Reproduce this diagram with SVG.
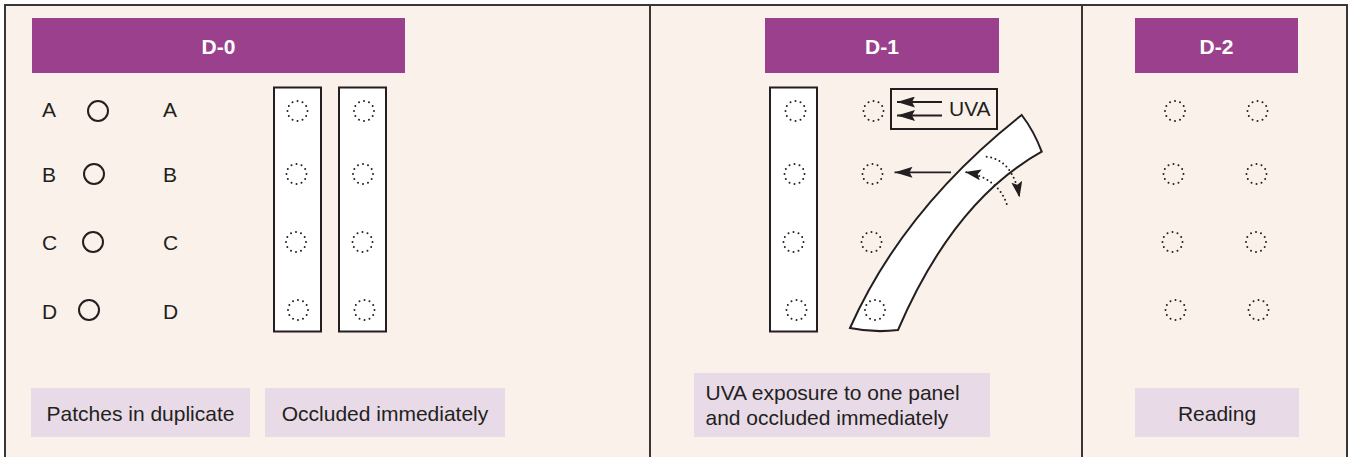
<svg xmlns="http://www.w3.org/2000/svg" width="1349" height="457" viewBox="0 0 1349 457">
<style>
  .frame{fill:#FBF1EB;stroke:#3A3536;stroke-width:2}
  .div{stroke:#3A3536;stroke-width:2}
  .hdr{fill:#9B408C}
  .hdrt{fill:#FFFFFF;font-family:"Liberation Sans",Arial,sans-serif;font-weight:bold;font-size:21px;text-anchor:middle}
  .lbl{fill:#E8DBE7}
  .t{fill:#231F20;font-family:"Liberation Sans",Arial,sans-serif;font-size:21px}
  .c{text-anchor:middle}
  .ring{fill:none;stroke:#231F20;stroke-width:2}
  .dot{fill:none;stroke:#231F20;stroke-width:2;stroke-linecap:round;stroke-dasharray:0 1}
  .strip{fill:#FFFFFF;stroke:#231F20;stroke-width:2}
  .arr{fill:none;stroke:#231F20;stroke-width:1.8}
  .darr{fill:none;stroke:#231F20;stroke-width:2;stroke-linecap:round;stroke-dasharray:0 4.5}
</style>
<defs>
  <marker id="ah" markerUnits="userSpaceOnUse" markerWidth="18" markerHeight="11" viewBox="0 0 18 11" refX="18" refY="5.5" orient="auto">
    <path d="M0,0 L18,5.5 L0,11 L3,5.5 Z" fill="#231F20"/>
  </marker>
  <marker id="ah2" markerUnits="userSpaceOnUse" markerWidth="16" markerHeight="11" viewBox="0 0 16 11" refX="16" refY="5.5" orient="auto">
    <path d="M0,0 L16,5.5 L0,11 L3,5.5 Z" fill="#231F20"/>
  </marker>
</defs>
<rect x="0" y="0" width="1349" height="457" fill="#FFFFFF"/>
<rect class="frame" x="5" y="5" width="1342" height="470"/>
<line class="div" x1="650" y1="5" x2="650" y2="457"/>
<line class="div" x1="1082" y1="5" x2="1082" y2="457"/>

<g id="d0-header"><rect class="hdr" x="32" y="18" width="373" height="55"/><text class="hdrt" x="218.5" y="54">D-0</text></g>
<g id="d1-header"><rect class="hdr" x="765" y="18" width="234" height="55"/><text class="hdrt" x="882" y="54">D-1</text></g>
<g id="d2-header"><rect class="hdr" x="1135" y="18" width="163" height="55"/><text class="hdrt" x="1216.5" y="54">D-2</text></g>

<g id="d0-patches">
  <text class="t" x="42" y="117">A</text><circle class="ring" cx="98" cy="111" r="10"/><text class="t" x="163" y="117">A</text>
  <text class="t" x="42" y="181.5">B</text><circle class="ring" cx="94" cy="174" r="10"/><text class="t" x="163" y="181.5">B</text>
  <text class="t" x="42" y="250">C</text><circle class="ring" cx="93" cy="242" r="10"/><text class="t" x="163" y="250">C</text>
  <text class="t" x="42" y="318.5">D</text><circle class="ring" cx="89" cy="310" r="10"/><text class="t" x="163" y="318.5">D</text>
</g>

<g id="d0-strip1">
  <rect class="strip" x="274" y="87.5" width="47" height="244"/>
  <circle class="dot" pathLength="12" cx="297.5" cy="111" r="10"/>
  <circle class="dot" pathLength="12" cx="296.5" cy="174" r="10"/>
  <circle class="dot" pathLength="12" cx="296" cy="242" r="10"/>
  <circle class="dot" pathLength="12" cx="298" cy="310" r="10"/>
</g>
<g id="d0-strip2">
  <rect class="strip" x="339" y="87.5" width="47" height="244"/>
  <circle class="dot" pathLength="12" cx="364" cy="111" r="10"/>
  <circle class="dot" pathLength="12" cx="363" cy="174" r="10"/>
  <circle class="dot" pathLength="12" cx="362.5" cy="242" r="10"/>
  <circle class="dot" pathLength="12" cx="364.5" cy="310" r="10"/>
</g>

<g id="label-patches"><rect class="lbl" x="31" y="388" width="219" height="49"/><text class="t c" x="140.5" y="421">Patches in duplicate</text></g>
<g id="label-occluded"><rect class="lbl" x="265" y="388" width="240" height="49"/><text class="t c" x="385" y="421">Occluded immediately</text></g>

<g id="d1-strip">
  <rect class="strip" x="770" y="87.5" width="47" height="244"/>
  <circle class="dot" pathLength="12" cx="795.5" cy="111" r="10"/>
  <circle class="dot" pathLength="12" cx="794.5" cy="174" r="10"/>
  <circle class="dot" pathLength="12" cx="793.5" cy="242" r="10"/>
  <circle class="dot" pathLength="12" cx="796.5" cy="310" r="10"/>
</g>

<g id="d1-exposed">
  <circle class="dot" pathLength="12" cx="873.5" cy="111" r="10"/>
  <circle class="dot" pathLength="12" cx="872.5" cy="174" r="10"/>
  <circle class="dot" pathLength="12" cx="871.5" cy="242" r="10"/>
</g>

<g id="uva-box">
  <rect fill="#FBF1EB" stroke="#231F20" stroke-width="2" x="891" y="89" width="106" height="40"/>
  <text class="t" x="949" y="116">UVA</text>
</g>

<g id="d1-peeled-strip">
  <path class="strip" d="M850,328 Q903.6,207.9 1021.7,115 Q1034,131 1041.7,151.7 Q953.6,200.6 898,330 Q874,333 850,328 Z"/>
  <circle class="dot" pathLength="12" cx="875" cy="310" r="10"/>
</g>

<g id="connectors">
  <line class="arr" x1="942" y1="102" x2="897" y2="102" marker-end="url(#ah)"/>
  <line class="arr" x1="942" y1="115.5" x2="897" y2="115.5" marker-end="url(#ah)"/>
  <line class="arr" x1="951" y1="172.3" x2="894.5" y2="172.3" marker-end="url(#ah)"/>
  <path class="darr" d="M986.7,156.7 Q1013,160 1019.5,197.5" marker-end="url(#ah2)"/>
  <path class="darr" d="M1006.7,204 Q998,178 965,172" marker-end="url(#ah2)"/>
</g>

<g id="label-uva"><rect class="lbl" x="694" y="373" width="296" height="64"/><text class="t" x="705.5" y="400">UVA exposure to one panel</text><text class="t" x="705.5" y="425">and occluded immediately</text></g>

<g id="d2-patches">
  <circle class="dot" pathLength="12" cx="1175" cy="111" r="10"/>
  <circle class="dot" pathLength="12" cx="1257.5" cy="111" r="10"/>
  <circle class="dot" pathLength="12" cx="1173.5" cy="174" r="10"/>
  <circle class="dot" pathLength="12" cx="1256.5" cy="174" r="10"/>
  <circle class="dot" pathLength="12" cx="1172.5" cy="242" r="10"/>
  <circle class="dot" pathLength="12" cx="1256" cy="242" r="10"/>
  <circle class="dot" pathLength="12" cx="1175.5" cy="310" r="10"/>
  <circle class="dot" pathLength="12" cx="1258.5" cy="310" r="10"/>
</g>

<g id="label-reading"><rect class="lbl" x="1135" y="388" width="164" height="49"/><text class="t c" x="1217" y="421">Reading</text></g>
</svg>
